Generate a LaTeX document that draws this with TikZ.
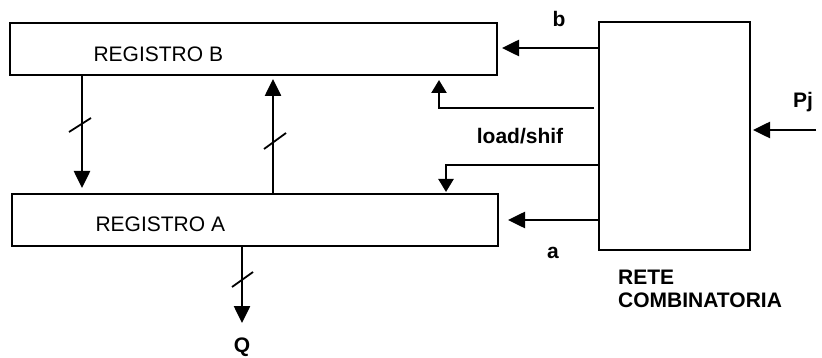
\documentclass[tikz,border=0pt]{standalone}
\usepackage{fontspec}
\setmainfont{Liberation Sans}
\usetikzlibrary{arrows.meta}
\begin{document}
\begin{tikzpicture}[x=1pt,y=-1pt,
  box/.style={draw,line width=2pt,inner sep=0pt},
  arr/.style={line width=2.6pt,-{Triangle[length=17pt,width=16pt]}},
  sarr/.style={line width=2.4pt,-{Triangle[length=13pt,width=15pt]}},
  bus/.style={line width=1.8pt},
  lbl/.style={font=\fontsize{21}{24}\selectfont},
  blbl/.style={font=\fontsize{21}{23}\selectfont\bfseries}]
\useasboundingbox (0,0) rectangle (822,358);
% boxes
\node[box,minimum width=487pt,minimum height=52pt] (rB) at (253.5,49) {};
\node[box,minimum width=486pt,minimum height=52pt] (rA) at (255,220) {};
\node[box,minimum width=151pt,minimum height=228pt] (rc) at (674.5,136) {};
% box texts
\node[lbl,anchor=west] (tB) at (90,54) {REGISTRO B};
\node[lbl,anchor=west] (tA) at (92,224) {REGISTRO A};
\node[blbl,anchor=north west,align=left,inner sep=0pt] (tR) at (618,270) {RETE\\COMBINATORIA};
% B -> A
\coordinate (bt) at (82,188);
\draw[arr] (82,0 |- rB.south) -- (bt);
\draw[bus] (69,132) -- (91,118);
% A -> B
\coordinate (at) at (273,79);
\draw[arr] (273,0 |- rA.north) -- (at);
\draw[bus] (264,149) -- (286,133);
% A -> Q
\coordinate (qt) at (242,323);
\draw[arr] (242,0 |- rA.south) -- (qt);
\draw[bus] (232,287) -- (253,272);
\node[blbl,inner sep=1pt] (Q) at (242,347) {Q};
% b and a
\coordinate (btip) at (502,48);
\draw[arr] (rc.west |- 0,48) -- (btip);
\node[blbl] (lb) at (559,19) {b};
\coordinate (atip) at (508,220);
\draw[arr] (rc.west |- 0,220) -- (atip);
\node[blbl] (la) at (553,253) {a};
% load/shift
\coordinate (ls1) at (594,108);
\coordinate (ls1t) at (439,80);
\draw[sarr] (ls1) -- (439,108) -- (ls1t);
\coordinate (ls2t) at (446,192);
\draw[sarr] (rc.west |- 0,165) -- (446,165) -- (ls2t);
\node[blbl] (ll) at (520,136) {load/shif};
% Pj
\coordinate (pj) at (816,130);
\coordinate (pjt) at (753,130);
\draw[arr] (pj) -- (pjt);
\node[blbl] (lpj) at (803,102) {Pj};
\end{tikzpicture}
\end{document}
